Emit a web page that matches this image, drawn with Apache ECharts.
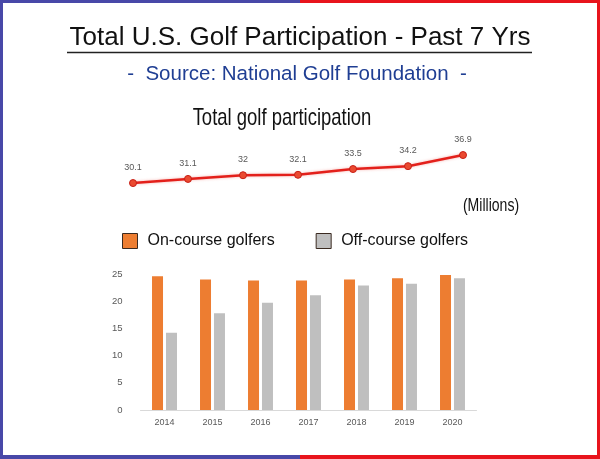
<!DOCTYPE html>
<html>
<head>
<meta charset="utf-8">
<style>
  html, body { margin: 0; padding: 0; background: #fff; }
  #main { width: 600px; height: 459px; }
</style>
<script src="https://cdn.jsdelivr.net/npm/echarts@6/dist/echarts.min.js"></script>
</head>
<body>
<div id="main"></div>
<script>
var years = ["2014", "2015", "2016", "2017", "2018", "2019", "2020"];
var totalGolfers = [30.1, 31.1, 32, 32.1, 33.5, 34.2, 36.9];
var onCourse = [24.6, 24.0, 23.8, 23.8, 24.0, 24.2, 24.8];
var offCourse = [14.2, 17.8, 19.7, 21.1, 22.9, 23.2, 24.2];
var yTicks = [0, 25, 5]; // min, max, interval

var chart = echarts.init(document.getElementById("main"));

var blue = "#4848a8";
var red = "#e8141c";
var sans = "'Liberation Sans', Arial, sans-serif";

var option = {
	backgroundColor: "#fff",
	animation: false,
	textStyle: {
		fontFamily: sans
	},
	legend: {
		data: ["On-course golfers", "Off-course golfers"],
		left: 122,
		top: 233,
		padding: 0,
		icon: "rect",
		itemWidth: 15,
		itemHeight: 15,
		itemGap: 41,
		itemStyle: {
			borderColor: "#3a2a20",
			borderWidth: 1
		},
		textStyle: {
			fontSize: 16,
			color: "#111",
			padding: [0, 0, 0, 5]
		}
	},
	grid: [
		{ left: 133, right: 137, top: 150.5, height: 41.2 },
		{ left: 140.5, right: 123.5, top: 274, bottom: 49 }
	],
	xAxis: [
		{
			gridIndex: 0,
			type: "category",
			data: years,
			boundaryGap: false,
			show: false
		},
		{
			gridIndex: 1,
			type: "category",
			data: years,
			axisLine: { lineStyle: { color: "#d9d9d9", width: 1 } },
			axisTick: { show: false },
			axisLabel: { color: "#595959", fontSize: 9, margin: 8 }
		}
	],
	yAxis: [
		{
			gridIndex: 0,
			type: "value",
			min: 28,
			max: 38,
			show: false
		},
		{
			gridIndex: 1,
			type: "value",
			min: yTicks[0],
			max: yTicks[1],
			interval: yTicks[2],
			axisLine: { show: false },
			axisTick: { show: false },
			splitLine: { show: false },
			axisLabel: { color: "#595959", fontSize: 9.5, margin: 18 }
		}
	],
	series: [
		{
			name: "Total golf participation",
			type: "line",
			xAxisIndex: 0,
			yAxisIndex: 0,
			data: totalGolfers,
			symbol: "circle",
			symbolSize: 7,
			lineStyle: {
				color: "#e3201b",
				width: 2.5,
				shadowColor: "rgba(230,40,30,0.35)",
				shadowBlur: 3
			},
			itemStyle: {
				color: "#ea4a30",
				borderColor: "#c81f16",
				borderWidth: 1
			},
			label: {
				show: true,
				position: "top",
				distance: 7,
				color: "#595959",
				fontSize: 9
			}
		},
		{
			name: "On-course golfers",
			type: "bar",
			xAxisIndex: 1,
			yAxisIndex: 1,
			data: onCourse,
			barWidth: 11,
			barGap: "27%",
			itemStyle: { color: "#ed7d31" }
		},
		{
			name: "Off-course golfers",
			type: "bar",
			xAxisIndex: 1,
			yAxisIndex: 1,
			data: offCourse,
			barWidth: 11,
			barGap: "27%",
			itemStyle: { color: "#bfbfbf" }
		}
	],
	graphic: [
		// frame: blue on the left half, red on the right
		{ type: "rect", shape: { x: 0, y: 0, width: 300, height: 3 }, style: { fill: blue } },
		{ type: "rect", shape: { x: 300, y: 0, width: 300, height: 3 }, style: { fill: red } },
		{ type: "rect", shape: { x: 0, y: 0, width: 3, height: 459 }, style: { fill: blue } },
		{ type: "rect", shape: { x: 597, y: 0, width: 3, height: 459 }, style: { fill: red } },
		{ type: "rect", shape: { x: 0, y: 455, width: 300, height: 4 }, style: { fill: blue } },
		{ type: "rect", shape: { x: 300, y: 455, width: 300, height: 4 }, style: { fill: red } },
		{
			type: "text",
			x: 300,
			y: 37.5,
			style: {
				text: "Total U.S. Golf Participation - Past 7 Yrs",
				fontFamily: sans,
				fontSize: 26,
				fill: "#111",
				align: "center",
				verticalAlign: "middle"
			}
		},
		{
			type: "line",
			shape: { x1: 67, y1: 52.5, x2: 532, y2: 52.5 },
			style: { stroke: "#222", lineWidth: 1.5 }
		},
		{
			type: "text",
			x: 297,
			y: 74.2,
			style: {
				text: "-  Source: National Golf Foundation  -",
				fontFamily: sans,
				fontSize: 20.5,
				fill: "#1f3e93",
				align: "center",
				verticalAlign: "middle"
			}
		},
		{
			// condensed lettering, as in the pasted chart image
			type: "text",
			x: 282,
			y: 118,
			scaleX: 0.77,
			style: {
				text: "Total golf participation",
				fontFamily: sans,
				fontSize: 24,
				fill: "#111",
				align: "center",
				verticalAlign: "middle"
			}
		},
		{
			type: "text",
			x: 491,
			y: 206,
			scaleX: 0.78,
			style: {
				text: "(Millions)",
				fontFamily: sans,
				fontSize: 18,
				fill: "#111",
				align: "center",
				verticalAlign: "middle"
			}
		}
	]
};

chart.setOption(option);
</script>
</body>
</html>
